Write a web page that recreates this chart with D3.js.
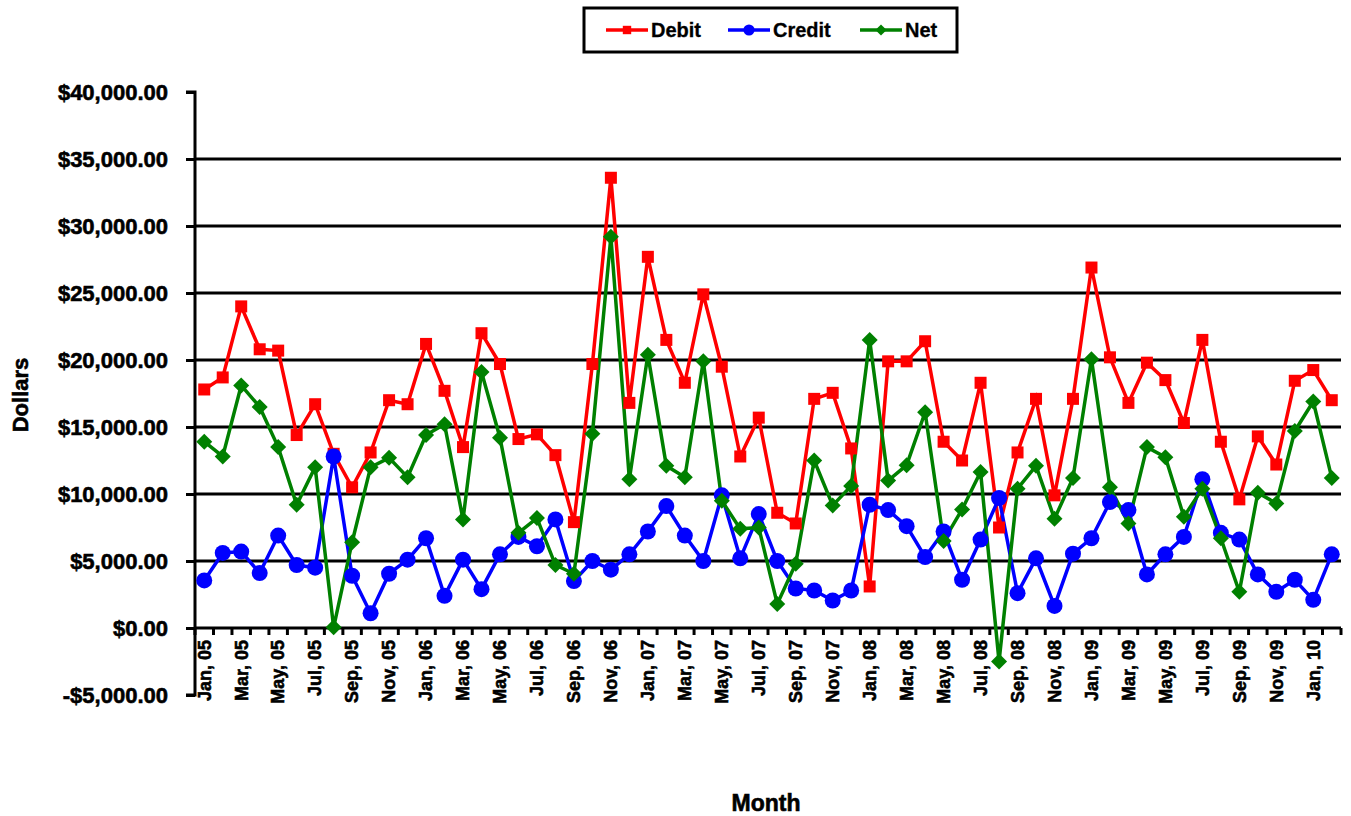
<!DOCTYPE html>
<html>
<head>
<meta charset="utf-8">
<script src="https://cdn.jsdelivr.net/npm/d3@7"></script>
<style>
    body { margin: 0; background: #fff; }
    text { font-family: "Liberation Sans", Arial, sans-serif; font-weight: bold; fill: #000; stroke: #000; stroke-width: 0.6px; }
</style>
</head>
<body>
<script>
//monthly categories, Jan 05 to Feb 10
var months = ["Jan, 05","Feb, 05","Mar, 05","Apr, 05","May, 05","Jun, 05","Jul, 05","Aug, 05","Sep, 05","Oct, 05","Nov, 05","Dec, 05",
              "Jan, 06","Feb, 06","Mar, 06","Apr, 06","May, 06","Jun, 06","Jul, 06","Aug, 06","Sep, 06","Oct, 06","Nov, 06","Dec, 06",
              "Jan, 07","Feb, 07","Mar, 07","Apr, 07","May, 07","Jun, 07","Jul, 07","Aug, 07","Sep, 07","Oct, 07","Nov, 07","Dec, 07",
              "Jan, 08","Feb, 08","Mar, 08","Apr, 08","May, 08","Jun, 08","Jul, 08","Aug, 08","Sep, 08","Oct, 08","Nov, 08","Dec, 08",
              "Jan, 09","Feb, 09","Mar, 09","Apr, 09","May, 09","Jun, 09","Jul, 09","Aug, 09","Sep, 09","Oct, 09","Nov, 09","Dec, 09",
              "Jan, 10","Feb, 10"];

var debit = [17800,18700,24000,20800,20700,14400,16700,13000,10500,13100,17000,16700,
             21200,17700,13500,22000,19700,14100,14450,12900,7900,19700,33600,16800,
             27700,21500,18300,24900,19500,12800,15700,8600,7800,17100,17550,13400,
             3100,19900,19900,21400,13900,12500,18300,7500,13100,17100,9900,17100,
             26900,20200,16800,19800,18500,15300,21500,13900,9600,14300,12200,18450,
             19250,17000];

var credit = [3550,5600,5700,4100,6900,4700,4500,12800,3900,1100,4050,5100,
              6700,2400,5100,2900,5500,6800,6100,8100,3500,5000,4350,5500,
              7200,9100,6900,5000,9900,5200,8500,5000,2950,2800,2050,2800,
              9200,8800,7600,5300,7200,3600,6600,9700,2600,5200,1650,5550,
              6700,9400,8800,4000,5500,6800,11100,7100,6600,4000,2700,3600,
              2100,5500];

var net = [13900,12800,18100,16500,13500,9200,12000,50,6400,12000,12700,11250,
           14400,15200,8100,19100,14200,7100,8200,4700,4050,14500,29200,11100,
           20400,12100,11250,19900,9500,7400,7500,1800,4800,12500,9150,10600,
           21500,11000,12150,16100,6500,8850,11650,-2500,10400,12100,8150,11200,
           20050,10500,7800,13500,12750,8300,10400,6700,2700,10100,9300,14700,
           16900,11200];

var yTicks = [-5000,0,5000,10000,15000,20000,25000,30000,35000,40000];

var seriesNames = ["Debit","Credit","Net"];
var seriesColors = ["#ff0000","#0000ff","#008000"];

window.onload = drawChart();

function drawChart(){
    var width = 1351,
        height = 816;

    var svg = d3.select("body")
        .append("svg")
        .attr("width", width)
        .attr("height", height);

    //scales
    var x = d3.scaleBand()
        .domain(months)
        .range([195, 1341]);

    var y = d3.scaleLinear()
        .domain([-5000, 40000])
        .range([695, 92]);

    var cx = function(i){ return x(months[i]) + x.bandwidth() / 2; };

    //horizontal gridlines
    svg.selectAll(".grid")
        .data(yTicks.filter(function(t){ return t > 0 && t < 40000; }))
        .enter()
        .append("line")
        .attr("class", "grid")
        .attr("x1", 195)
        .attr("x2", 1341)
        .attr("y1", function(d){ return y(d); })
        .attr("y2", function(d){ return y(d); })
        .attr("stroke", "#000")
        .attr("stroke-width", 3);

    //y axis
    var fmt = d3.format("$,.2f");
    var yAxis = svg.append("g")
        .attr("transform", "translate(195,0)")
        .call(d3.axisLeft(y)
            .tickValues(yTicks)
            .tickSize(9)
            .tickPadding(18)
            .tickFormat(function(d){ return fmt(d).replace("\u2212", "-"); }));
    yAxis.select(".domain").attr("stroke-width", 3).attr("d", "M-9," + y(-5000) + "H0V" + y(40000) + "H-9");
    yAxis.selectAll(".tick line").attr("stroke-width", 3);
    yAxis.selectAll("text")
        .style("font-size", "22px")
        .style("font-weight", "bold")
        .attr("fill", "#000");

    //x axis line at zero
    var xAxis = svg.append("g")
        .attr("transform", "translate(0," + y(0) + ")");
    xAxis.append("line")
        .attr("x1", 195)
        .attr("x2", 1341)
        .attr("stroke", "#000")
        .attr("stroke-width", 3);
    xAxis.selectAll(".xtick")
        .data(months.concat(["end"]))
        .enter()
        .append("line")
        .attr("class", "xtick")
        .attr("x1", function(d, i){ return 195 + i * x.bandwidth(); })
        .attr("x2", function(d, i){ return 195 + i * x.bandwidth(); })
        .attr("y1", 0)
        .attr("y2", 7)
        .attr("stroke", "#000")
        .attr("stroke-width", 3);
    xAxis.selectAll(".xlabel")
        .data(months.filter(function(d, i){ return i % 2 == 0; }))
        .enter()
        .append("text")
        .attr("class", "xlabel")
        .attr("transform", function(d){
            return "translate(" + (x(d) + x.bandwidth() / 2) + ",12) rotate(-90)";
        })
        .attr("dy", "0.35em")
        .attr("text-anchor", "end")
        .style("font-size", "18px")
        .text(function(d){ return d; });

    //series lines and markers
    var allSeries = [debit, credit, net];
    var line = d3.line()
        .x(function(d, i){ return cx(i); })
        .y(function(d){ return y(d); });

    allSeries.forEach(function(values, s){
        svg.append("path")
            .datum(values)
            .attr("fill", "none")
            .attr("stroke", seriesColors[s])
            .attr("stroke-width", 3.5)
            .attr("d", line);
    });

    //markers drawn after all lines
    allSeries.forEach(function(values, s){
        var g = svg.append("g").attr("fill", seriesColors[s]);
        values.forEach(function(v, i){
            drawMarker(g, s, cx(i), y(v));
        });
    });

    //axis titles
    svg.append("text")
        .attr("transform", "translate(20,395) rotate(-90)")
        .attr("dy", "0.35em")
        .attr("text-anchor", "middle")
        .style("font-size", "22px")
        .text("Dollars");

    svg.append("text")
        .attr("x", 766)
        .attr("y", 811)
        .attr("text-anchor", "middle")
        .style("font-size", "23px")
        .text("Month");

    //legend
    var legend = svg.append("g");
    legend.append("rect")
        .attr("x", 584)
        .attr("y", 8)
        .attr("width", 373)
        .attr("height", 44)
        .attr("fill", "#fff")
        .attr("stroke", "#000")
        .attr("stroke-width", 3);
    var legendX = [606, 728, 860];
    seriesNames.forEach(function(name, s){
        var lx = legendX[s];
        legend.append("line")
            .attr("x1", lx)
            .attr("x2", lx + 42)
            .attr("y1", 30)
            .attr("y2", 30)
            .attr("stroke", seriesColors[s])
            .attr("stroke-width", 3.5);
        var g = legend.append("g").attr("fill", seriesColors[s]);
        drawMarker(g, s, lx + 21, 30, 0.7);
        legend.append("text")
            .attr("x", lx + 45)
            .attr("y", 30)
            .attr("dy", "0.35em")
            .style("font-size", "20px")
            .style("stroke-width", "0.3px")
            .text(name);
    });

    //square for debit, circle for credit, diamond for net
    function drawMarker(g, s, px, py, k){
        k = k || 1;
        if (s == 0){
            g.append("rect")
                .attr("x", px - 6 * k)
                .attr("y", py - 6 * k)
                .attr("width", 12 * k)
                .attr("height", 12 * k);
        } else if (s == 1){
            g.append("circle")
                .attr("cx", px)
                .attr("cy", py)
                .attr("r", 8 * k);
        } else {
            g.append("path")
                .attr("d", "M" + px + "," + (py - 8 * k) + "L" + (px + 8 * k) + "," + py +
                           "L" + px + "," + (py + 8 * k) + "L" + (px - 8 * k) + "," + py + "Z");
        }
    };
};
</script>
</body>
</html>
